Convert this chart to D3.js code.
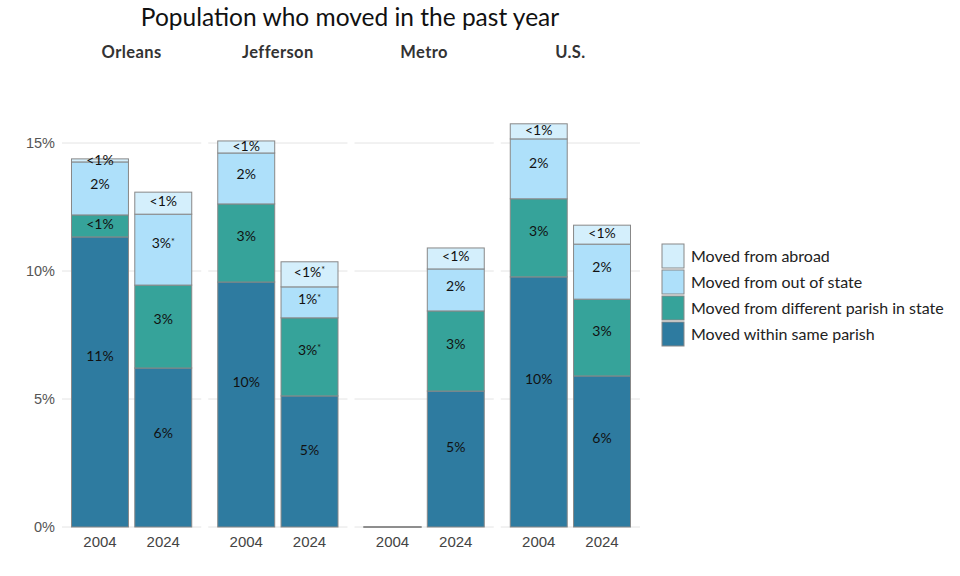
<!DOCTYPE html>
<html>
<head>
<meta charset="utf-8">
<script src="https://cdn.jsdelivr.net/npm/d3@7"></script>
<style>
  body { margin: 0; background: #fff; }
  svg { font-family: Lato, "Open Sans", sans-serif; }
</style>
</head>
<body>
<svg class="chart" width="960" height="576"></svg>
<script>
// data (percent of population)
var groups = ["Orleans", "Jefferson", "Metro", "U.S."];
var years = ["2004", "2024"];
var seriesNames = ["Moved within same parish", "Moved from different parish in state",
                   "Moved from out of state", "Moved from abroad"];
// order: Orleans 2004, Orleans 2024, Jefferson 2004, Jefferson 2024, Metro 2004, Metro 2024, U.S. 2004, U.S. 2024
var withinParish = [11.33, 6.21, 9.57, 5.12, 0, 5.31, 9.77, 5.90];
var diffParish   = [0.86, 3.24, 3.05, 3.05, 0, 3.13, 3.05, 3.00];
var outOfState   = [2.07, 2.77, 1.99, 1.21, 0, 1.64, 2.34, 2.15];
var fromAbroad   = [0.12, 0.86, 0.47, 0.98, 0, 0.82, 0.59, 0.74];
// asterisk flags
var withinSig = [0, 0, 0, 0, 0, 0, 0, 0];
var diffSig   = [0, 0, 0, 1, 0, 0, 0, 0];
var outSig    = [0, 1, 0, 1, 0, 0, 0, 0];
var abroadSig = [0, 0, 0, 1, 0, 0, 0, 0];
var yTicks = [0, 5, 10, 15];

var colors = ["#2e7ba0", "#36a39a", "#aee0fa", "#d4effc"];
var valuesBySeries = [withinParish, diffParish, outOfState, fromAbroad];
var sigBySeries = [withinSig, diffSig, outSig, abroadSig];

var svg = d3.select(".chart");

// title
svg.append("text")
    .attr("x", 350).attr("y", 26)
    .attr("text-anchor", "middle")
    .style("font-size", "24.5px")
    .style("fill", "#111")
    .text("Population who moved in the past year");

var y = d3.scaleLinear().domain([0, 15]).range([527, 143]);

// facet positions
var panel = d3.scaleBand().domain(groups).range([62, 640]).paddingInner(0.048);
var x = d3.scaleBand().domain(years).range([0, panel.bandwidth()])
          .paddingInner(0.1).paddingOuter(0.15);

// y axis labels
var yAxis = d3.axisLeft(y).tickValues(yTicks).tickSize(0).tickPadding(7)
    .tickFormat(function(d) { return d + "%"; });
svg.append("g")
    .attr("class", "y axis")
    .attr("transform", "translate(62,0)")
    .call(yAxis)
    .call(function(g) { g.select(".domain").remove(); })
    .selectAll("text")
    .style("font-size", "14.5px")
    .style("fill", "#555");

groups.forEach(function(grp, gi) {
  var g = svg.append("g").attr("transform", "translate(" + panel(grp) + ",0)");

  // gridlines
  g.selectAll(".grid")
    .data(yTicks)
    .enter().append("line")
    .attr("x1", 0).attr("x2", panel.bandwidth())
    .attr("y1", function(d) { return y(d); })
    .attr("y2", function(d) { return y(d); })
    .style("stroke", "#e4e4e4")
    .style("stroke-width", 1);

  // header
  g.append("text")
    .attr("x", panel.bandwidth() / 2).attr("y", 58)
    .attr("text-anchor", "middle")
    .style("font-size", "16.5px")
    .style("font-weight", "bold")
    .style("letter-spacing", "0.4px")
    .style("fill", "#333")
    .text(grp);

  // x axis
  var xAxis = d3.axisBottom(x).tickSize(0).tickPadding(9);
  g.append("g")
    .attr("transform", "translate(0,527)")
    .call(xAxis)
    .call(function(a) { a.select(".domain").remove(); })
    .selectAll("text")
    .style("font-size", "15px")
    .style("fill", "#444");

  years.forEach(function(yr, yi) {
    var idx = gi * 2 + yi;
    var base = 0;
    valuesBySeries.forEach(function(vals, si) {
      var v = vals[idx];
      var y0 = base, y1 = base + v;
      base = y1;
      g.append("rect")
        .attr("x", x(yr))
        .attr("width", x.bandwidth())
        .attr("y", y(y1))
        .attr("height", Math.max(y(y0) - y(y1), 0.01))
        .style("fill", colors[si])
        .style("stroke", "#888")
        .style("stroke-width", 1);
      if (v > 0) {
        var t = g.append("text")
          .attr("x", x(yr) + x.bandwidth() / 2)
          .attr("y", y(y0) + 0.59 * (y(y1) - y(y0)))
          .attr("dy", "0.35em")
          .attr("text-anchor", "middle")
          .style("font-size", "14px")
          .style("fill", "#111")
          .text(v < 1 ? "<1%" : Math.round(v) + "%");
        if (sigBySeries[si][idx]) {
          t.append("tspan")
            .attr("dy", "-0.4em")
            .style("font-size", "9px")
            .text("*");
        }
      }
    });
  });
});

// legend
var legend = svg.append("g").attr("transform", "translate(662,244)");
var legendOrder = [3, 2, 1, 0];
legendOrder.forEach(function(si, i) {
  legend.append("rect")
    .attr("x", 0).attr("y", i * 26)
    .attr("width", 22).attr("height", 24)
    .style("fill", colors[si])
    .style("stroke", "#888");
  legend.append("text")
    .attr("x", 29).attr("y", i * 26 + 12)
    .attr("dy", "0.35em")
    .style("font-size", "16px")
    .style("fill", "#222")
    .text(seriesNames[si]);
});
</script>
</body>
</html>
